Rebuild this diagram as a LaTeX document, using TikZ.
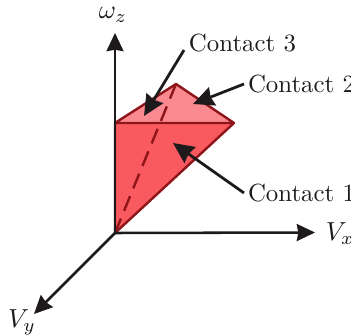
\documentclass[tikz,border=0pt]{standalone}
\usetikzlibrary{arrows.meta}
\definecolor{fr}{HTML}{F95A60}
\definecolor{tp}{HTML}{FB8A90}
\definecolor{edge}{HTML}{8E1519}
\definecolor{ink}{HTML}{1E1A1B}
\tikzset{
 axis/.style={ink,line width=1.05pt,-{Stealth[length=7.5pt,width=7pt,inset=0.6pt]}},
 pointer/.style={ink,line width=1.15pt,-{Stealth[length=8.6pt,width=8pt,inset=0.8pt]}},
 lbl/.style={inner sep=0pt,outer sep=0pt,text=ink,scale=1.025},
 mathlbl/.style={lbl,scale=1.05},
 rim/.style={edge,line width=1pt,line join=round},
}
\begin{document}
\begin{tikzpicture}[x=0.4125pt,y=-0.4125pt]
\useasboundingbox (0,0) rectangle (351,335);
\coordinate (O) at (115,233);
\coordinate (A) at (115,123);
\coordinate (B) at (234,123);
\coordinate (C) at (176,84);
\coordinate (tz) at (115,33);
\coordinate (tx) at (315,232.5);
\coordinate (ty) at (34,314);
\coordinate (p3) at (144,116);
\coordinate (p2) at (193,104);
\coordinate (p1) at (173,143);
\fill[fr] (A) -- (B) -- (O) -- cycle;
\fill[tp] (A) -- (C) -- (B) -- cycle;
\draw[rim,dash pattern=on 6.5pt off 3.5pt] (C) -- (O);
\draw[rim] (O) -- (A) -- (C) -- (B) -- cycle (A) -- (B);
\draw[axis] (O) -- (tz);
\draw[axis] (O) -- (tx);
\draw[axis] (O) -- (ty);
\node[lbl,anchor=west] (c3) at (189,43) {Contact 3};
\node[lbl,anchor=west] (c2) at (248,84) {Contact 2};
\node[lbl,anchor=west] (c1) at (248,193) {Contact 1};
\node[mathlbl] (wz) at (113,15) {$\omega_z$};
\node[mathlbl] (vx) at (340,234) {$V_x$};
\node[mathlbl] (vy) at (22,322) {$V_y$};
\draw[pointer] (c3.south west)++(-5,-2) coordinate (s3) -- (p3);
\draw[pointer] (c2.west)++(-4,0) coordinate (s2) -- (p2);
\draw[pointer] (c1.west)++(-4,0) coordinate (s1) -- (p1);
\end{tikzpicture}
\end{document}
